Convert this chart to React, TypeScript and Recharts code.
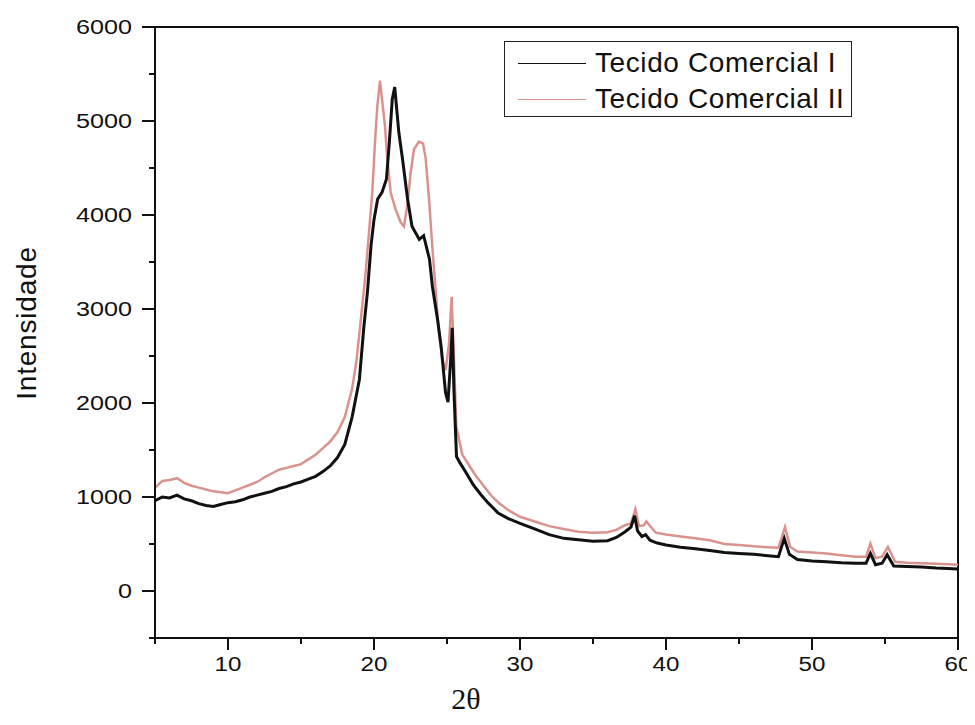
import { Legend, Line, LineChart, ReferenceLine, XAxis, YAxis } from "recharts"

// 2θ positions and intensities
const angleI = [
  5, 5.5, 6, 6.5, 7, 7.5, 8, 8.5, 9, 9.5, 10, 10.5, 11, 11.5, 12, 12.5, 13, 13.5, 14, 14.5, 15, 15.5, 16, 16.5,
  17, 17.5, 18, 18.5, 19, 19.3, 19.55, 19.8, 20, 20.25, 20.55, 20.85, 21.05, 21.25, 21.42, 21.7, 21.95, 22.3,
  22.6, 23.1, 23.4, 23.8, 24, 24.35, 24.6, 24.9, 25.07, 25.25, 25.36, 25.48, 25.65, 25.9, 26.3, 26.8, 27.3,
  27.8, 28.5, 29.2, 30, 31, 32, 33, 34, 35, 36, 36.6, 37.2, 37.6, 37.85, 38.05, 38.35, 38.6, 38.9, 39.4, 40,
  41, 42, 43, 44, 45, 46, 47, 47.7, 48.1, 48.45, 49, 50, 51, 52, 53, 53.7, 54, 54.35, 54.8, 55.15, 55.6, 56.5,
  57.5, 58.5, 59.3, 60,
]
const intensityI = [
  960, 1000, 990, 1020, 980, 960, 930, 910, 900, 920, 940, 950, 970, 1000, 1020, 1040, 1060, 1090, 1110, 1140,
  1160, 1190, 1220, 1270, 1330, 1420, 1560, 1850, 2250, 2800, 3180, 3680, 3950, 4170, 4240, 4380, 4770, 5230,
  5360, 4880, 4600, 4170, 3880, 3740, 3780, 3530, 3240, 2890, 2600, 2110, 2010, 2460, 2800, 2110, 1430, 1360,
  1260, 1130, 1030, 940, 830, 770, 720, 660, 600, 560, 545, 530, 535, 570, 630, 680, 800, 640, 580, 600, 540,
  510, 490, 465, 450, 430, 410, 400, 390, 375, 365, 560, 390, 335, 320, 310, 300, 295, 295, 400, 280, 295, 385,
  265, 260, 255, 245, 240, 235,
]

const angleII = [
  5, 5.5, 6, 6.5, 7, 7.5, 8, 8.5, 9, 9.5, 10, 10.5, 11, 11.5, 12, 12.5, 13, 13.5, 14, 14.5, 15, 15.5, 16, 16.5,
  17, 17.5, 18, 18.5, 18.8, 19.1, 19.43, 19.66, 19.88, 20.07, 20.23, 20.41, 20.57, 20.75, 20.91, 21.14, 21.48,
  21.83, 22.05, 22.28, 22.51, 22.74, 23.08, 23.36, 23.54, 23.77, 23.99, 24.23, 24.45, 24.68, 24.91, 25.14,
  25.32, 25.48, 25.64, 26.05, 26.5, 27, 27.5, 28, 28.56, 29.2, 30, 31, 32, 33, 34, 35, 36, 36.6, 37.2, 37.6,
  37.9, 38.15, 38.5, 38.65, 39.3, 40, 41, 42, 43, 44, 45, 46, 47, 47.7, 48.15, 48.5, 49, 50, 51, 52, 53, 53.7,
  54, 54.35, 54.8, 55.2, 55.7, 56.5, 57.5, 58.5, 59.3, 60,
]
const intensityII = [
  1100, 1170, 1180, 1200, 1150, 1120, 1100, 1080, 1060, 1050, 1040, 1070, 1100, 1130, 1160, 1210, 1250, 1290,
  1310, 1330, 1350, 1400, 1450, 1520, 1590, 1690, 1850, 2150, 2450, 2890, 3390, 3820, 4240, 4780, 5160, 5430,
  5200, 4950, 4600, 4240, 4060, 3920, 3880, 4100, 4450, 4700, 4780, 4760, 4600, 4170, 3670, 3180, 2750, 2460,
  2350, 2640, 3130, 2460, 1750, 1450, 1340, 1220, 1120, 1020, 935, 860, 790, 740, 690, 660, 630, 620, 625, 650,
  700, 720, 870, 690, 700, 740, 620, 600, 580, 560, 540, 500, 490, 475, 465, 460, 680, 470, 420, 410, 400, 380,
  365, 365, 505, 350, 365, 470, 310, 300, 295, 290, 285, 280,
]

const xTicks = [5, 10, 15, 20, 25, 30, 35, 40, 45, 50, 55, 60]
const yTicks = [-500, 0, 500, 1000, 1500, 2000, 2500, 3000, 3500, 4000, 4500, 5000, 5500, 6000]

const seriesI = angleI.map((x, i) => ({ x, y: intensityI[i] }))
const seriesII = angleII.map((x, i) => ({ x, y: intensityII[i] }))

const AXIS_X = 147 // left axis line, svg coords
const AXIS_Y = 630 // bottom axis line

// the scanned figure is a bit stretched sideways, so the labels get a horizontal scale
function YTick({ payload }: any) {
  const v = payload.value
  const y = payload.coordinate
  const major = v % 1000 === 0
  return (
    <g>
      <line x1={AXIS_X - (major ? 13 : 6)} x2={AXIS_X} y1={y} y2={y} stroke="#111" strokeWidth={2} />
      {major && (
        <text
          transform={`translate(${AXIS_X - 23},${y}) scale(1.2,1)`}
          textAnchor="end"
          dominantBaseline="central"
          fontFamily="Liberation Sans"
          fontSize={21}
          fill="#111"
        >
          {v}
        </text>
      )}
    </g>
  )
}

function XTick({ payload }: any) {
  const v = payload.value
  const x = payload.coordinate
  const major = v % 10 === 0
  return (
    <g>
      <line x1={x} x2={x} y1={AXIS_Y} y2={AXIS_Y + (major ? 12 : 6)} stroke="#111" strokeWidth={2} />
      {major && (
        <text
          transform={`translate(${x},${AXIS_Y + 26}) scale(1.15,1)`}
          textAnchor="middle"
          dominantBaseline="central"
          fontFamily="Liberation Sans"
          fontSize={21}
          fill="#111"
        >
          {v}
        </text>
      )}
    </g>
  )
}

function LegendBox() {
  const rows = [
    { name: "Tecido Comercial I", color: "#111" },
    { name: "Tecido Comercial II", color: "#d9938c" },
  ]
  return (
    <div
      style={{
        width: 348,
        height: 76,
        border: "1.5px solid #222",
        background: "#fff",
        fontFamily: "Liberation Sans",
        fontSize: 28,
        letterSpacing: 0.6,
        whiteSpace: "nowrap",
        color: "#111",
        boxSizing: "border-box",
        paddingTop: 3,
      }}
    >
      {rows.map((r) => (
        <div key={r.name} style={{ display: "flex", alignItems: "center", height: 36 }}>
          <div
            style={{ width: 68, height: 0, flex: "none", borderTop: `1.5px solid ${r.color}`, marginLeft: 13, marginRight: 9 }}
          />
          <span>{r.name}</span>
        </div>
      ))}
    </div>
  )
}

export default function App() {
  return (
    <LineChart width={966} height={710} margin={{ top: 19, right: 16, bottom: 0, left: 0 }}>
      <XAxis
        type="number"
        dataKey="x"
        domain={[5, 60]}
        ticks={xTicks}
        allowDataOverflow
        height={80}
        stroke="#111"
        strokeWidth={2}
        tickLine={false}
        tick={<XTick />}
        label={{
          content: () => (
            <text x={458} y={701} textAnchor="middle" fontFamily="Liberation Serif" fontSize={30} fill="#111">
              2θ
            </text>
          ),
        }}
      />
      <YAxis
        type="number"
        domain={[-500, 6000]}
        ticks={yTicks}
        allowDataOverflow
        width={147}
        stroke="#111"
        strokeWidth={2}
        tickLine={false}
        tick={<YTick />}
        label={{
          content: () => (
            <text
              x={18}
              y={315}
              transform="rotate(-90 18 315)"
              textAnchor="middle"
              dominantBaseline="central"
              fontFamily="Liberation Sans"
              fontSize={28}
              letterSpacing={0.8}
              fill="#111"
            >
              Intensidade
            </text>
          ),
        }}
      />
      <ReferenceLine y={6000} stroke="#111" strokeWidth={2} />
      <ReferenceLine x={60} stroke="#111" strokeWidth={2} />
      <Line
        data={seriesII}
        dataKey="y"
        name="Tecido Comercial II"
        type="linear"
        stroke="#d9938c"
        strokeWidth={2.5}
        dot={false}
        isAnimationActive={false}
      />
      <Line
        data={seriesI}
        dataKey="y"
        name="Tecido Comercial I"
        type="linear"
        stroke="#111"
        strokeWidth={3}
        dot={false}
        isAnimationActive={false}
      />
      <Legend
        layout="vertical"
        align="center"
        verticalAlign="middle"
        content={() => <LegendBox />}
        wrapperStyle={{ left: 496, top: 33, width: 348, height: 76 }}
      />
    </LineChart>
  )
}
